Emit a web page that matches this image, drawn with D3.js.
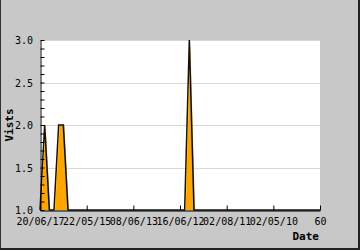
<!DOCTYPE html>
<html>
<head>
<meta charset="utf-8">
<script src="https://cdn.jsdelivr.net/npm/d3@7"></script>
<style>
  body { margin: 0; background: #c8c8c8; }
  svg { display: block; }
  text { font-family: "DejaVu Sans Mono", monospace; }
</style>
</head>
<body>
<div id="chart"></div>
<script>
// visits per day index (0..60)
const visits = [
  1, 2, 1, 1, 2, 2, 1, 1, 1, 1,
  1, 1, 1, 1, 1, 1, 1, 1, 1, 1,
  1, 1, 1, 1, 1, 1, 1, 1, 1, 1,
  1, 1, 3, 1, 1, 1, 1, 1, 1, 1,
  1, 1, 1, 1, 1, 1, 1, 1, 1, 1,
  1, 1, 1, 1, 1, 1, 1, 1, 1, 1,
  1
]
const xTicks = [0, 10, 20, 30, 40, 50, 60]
const xTickLabels = ["20/06/17", "22/05/15", "08/06/13", "16/06/12", "02/08/11", "02/05/10", "60"]
const yTicks = [1.0, 1.5, 2.0, 2.5, 3.0]

const width = 360, height = 250
const m = { top: 40, right: 40, bottom: 40, left: 40 }

const svg = d3.select("#chart").append("svg")
  .attr("width", width)
  .attr("height", height)

// frame
svg.append("rect").attr("x", 0).attr("y", 0).attr("width", width).attr("height", height).attr("fill", "#c8c8c8")
svg.append("line").attr("x1", 0.5).attr("x2", 0.5).attr("y1", 0).attr("y2", height).attr("stroke", "#333")
svg.append("line").attr("x1", width - 1).attr("x2", width - 1).attr("y1", 0).attr("y2", height).attr("stroke", "#222").attr("stroke-width", 2)
svg.append("line").attr("x1", 0).attr("x2", width).attr("y1", height - 1).attr("y2", height - 1).attr("stroke", "#222").attr("stroke-width", 2)

const x = d3.scaleLinear().domain([0, 60]).range([m.left, width - m.right])
const y = d3.scaleLinear().domain([1, 3]).range([height - m.bottom, m.top])

svg.append("rect")
  .attr("x", m.left).attr("y", m.top)
  .attr("width", x(60) - x(0)).attr("height", y(1) - y(3))
  .attr("fill", "#fff")

// gridlines
svg.append("g")
  .selectAll("line")
  .data(yTicks.slice(1))
  .join("line")
  .attr("x1", x(0)).attr("x2", x(60))
  .attr("y1", d => Math.round(y(d)) + 0.5).attr("y2", d => Math.round(y(d)) + 0.5)
  .attr("stroke", "#d8d8d8")

const area = d3.area()
  .x((d, i) => x(i) + 1)
  .y0(y(1))
  .y1(d => y(d))
const line = d3.line()
  .x((d, i) => x(i))
  .y(d => y(d))

svg.append("path").datum(visits).attr("d", area).attr("fill", "#ffa500")
svg.append("path").datum(visits).attr("d", line)
  .attr("fill", "none").attr("stroke", "#111").attr("stroke-width", 1.5)

// y axis
const yAxis = d3.axisLeft(y)
  .tickValues(d3.range(10, 31).map(v => v / 10))
  .tickSizeInner(-4).tickSizeOuter(0)
  .tickFormat("")
const gy = svg.append("g").attr("transform", `translate(${m.left + 0.5},0)`).call(yAxis)
gy.select(".domain").attr("stroke", "#000")
gy.selectAll(".tick line").attr("stroke", "#000")

svg.append("g")
  .selectAll("text")
  .data(yTicks)
  .join("text")
  .attr("x", 33).attr("y", d => y(d) + 4)
  .attr("text-anchor", "end")
  .attr("font-size", 10)
  .attr("fill", "#000")
  .text(d => d.toFixed(1))

// x axis
const xAxis = d3.axisBottom(x)
  .tickValues(xTicks)
  .tickSizeInner(-5).tickSizeOuter(0)
  .tickFormat((d, i) => xTickLabels[i])
const gx = svg.append("g").attr("transform", `translate(0,${height - m.bottom + 0.5})`).call(xAxis)
gx.select(".domain").attr("stroke", "#000")
gx.selectAll(".tick line").attr("stroke", "#000")
gx.selectAll(".tick text")
  .attr("y", 14).attr("dy", 0)
  .attr("font-family", "DejaVu Sans Mono")
  .attr("font-size", 10)
  .attr("fill", "#000")

// axis titles
svg.append("text")
  .attr("x", 319).attr("y", 240)
  .attr("text-anchor", "end")
  .attr("font-size", 11).attr("font-weight", "bold")
  .text("Date")
svg.append("text")
  .attr("transform", "translate(13,125) rotate(-90)")
  .attr("text-anchor", "middle")
  .attr("font-size", 11).attr("font-weight", "bold")
  .text("Vists")
</script>
</body>
</html>
